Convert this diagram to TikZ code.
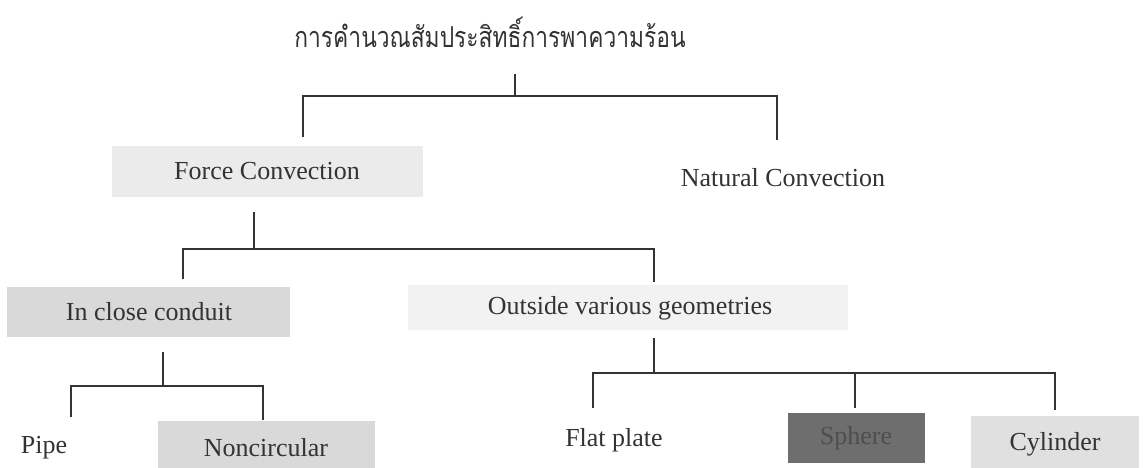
\documentclass[tikz,border=0pt]{standalone}
\usepackage{fontspec}
\setmainfont{Liberation Serif}
\newfontfamily\thaifont[Script=Thai]{Loma}
\definecolor{ink}{HTML}{333333}
\definecolor{lightbox}{HTML}{EBEBEB}
\definecolor{midbox}{HTML}{D9D9D9}
\definecolor{paleBox}{HTML}{F2F2F2}
\definecolor{cylbox}{HTML}{E0E0E0}
\definecolor{darkbox}{HTML}{6E6E6E}
\definecolor{darktext}{HTML}{4E4E4E}
\tikzset{
  lbl/.style={inner sep=0pt, text=ink, font=\fontsize{26}{30}\selectfont},
  link/.style={draw=ink, line width=2pt},
}
\begin{document}
\begin{tikzpicture}[x=1pt,y=-1pt]
\useasboundingbox (0,0) rectangle (1143,468);
% box fills
\fill[lightbox] (112,146) rectangle (423,197);
\fill[midbox] (7,287) rectangle (290,337);
\fill[paleBox] (408,285) rectangle (848,330);
\fill[midbox] (158,421) rectangle (375,468);
\fill[darkbox] (788,413) rectangle (925,463);
\fill[cylbox] (971,416) rectangle (1139,468);
% labels
\node[lbl, font=\thaifont\fontsize{24}{28}\selectfont] (title) at (490,32) {\scalebox{0.95}[1.2]{การคำนวณสัมประสิทธิ์การพาความร้อน}};
\node[lbl] (force) at (267,171) {Force Convection};
\node[lbl] (natural) at (783,178) {Natural Convection};
\node[lbl] (inclose) at (149,312) {In close conduit};
\node[lbl] (outside) at (630,308) {Outside various geometries};
\node[lbl] (pipe) at (44,448) {Pipe};
\node[lbl] (noncirc) at (266,448) {Noncircular};
\node[lbl] (flat) at (614,440) {Flat plate};
\node[lbl, text=darktext] (sphere) at (856,438) {Sphere};
\node[lbl] (cyl) at (1055,444) {Cylinder};
% connector points
\coordinate (t0) at (515,74);
\coordinate (t1) at (515,96);
\coordinate (fA) at (303,96);
\coordinate (fB) at (303,137);
\coordinate (nA) at (777,96);
\coordinate (nB) at (777,140);
\coordinate (f0) at (254,212);
\coordinate (f1) at (254,249);
\coordinate (iA) at (183,249);
\coordinate (iB) at (183,279);
\coordinate (oA) at (654,249);
\coordinate (oB) at (654,282);
\coordinate (c0) at (163,352);
\coordinate (c1) at (163,386);
\coordinate (pA) at (71,386);
\coordinate (pB) at (71,417);
\coordinate (qA) at (263,386);
\coordinate (qB) at (263,420);
\coordinate (g0) at (654,338);
\coordinate (g1) at (654,373);
\coordinate (lA) at (593,373);
\coordinate (lB) at (593,408);
\coordinate (sA) at (855,373);
\coordinate (sB) at (855,408);
\coordinate (yA) at (1055,373);
\coordinate (yB) at (1055,410);
% connectors
\draw[link] (t0) -- (t1);
\draw[link] (fB) -- (fA) -- (nA) -- (nB);
\draw[link] (f0) -- (f1);
\draw[link] (iB) -- (iA) -- (oA) -- (oB);
\draw[link] (c0) -- (c1);
\draw[link] (pB) -- (pA) -- (qA) -- (qB);
\draw[link] (g0) -- (g1);
\draw[link] (lB) -- (lA) -- (yA) -- (yB);
\draw[link] (sA) -- (sB);
\end{tikzpicture}
\end{document}
